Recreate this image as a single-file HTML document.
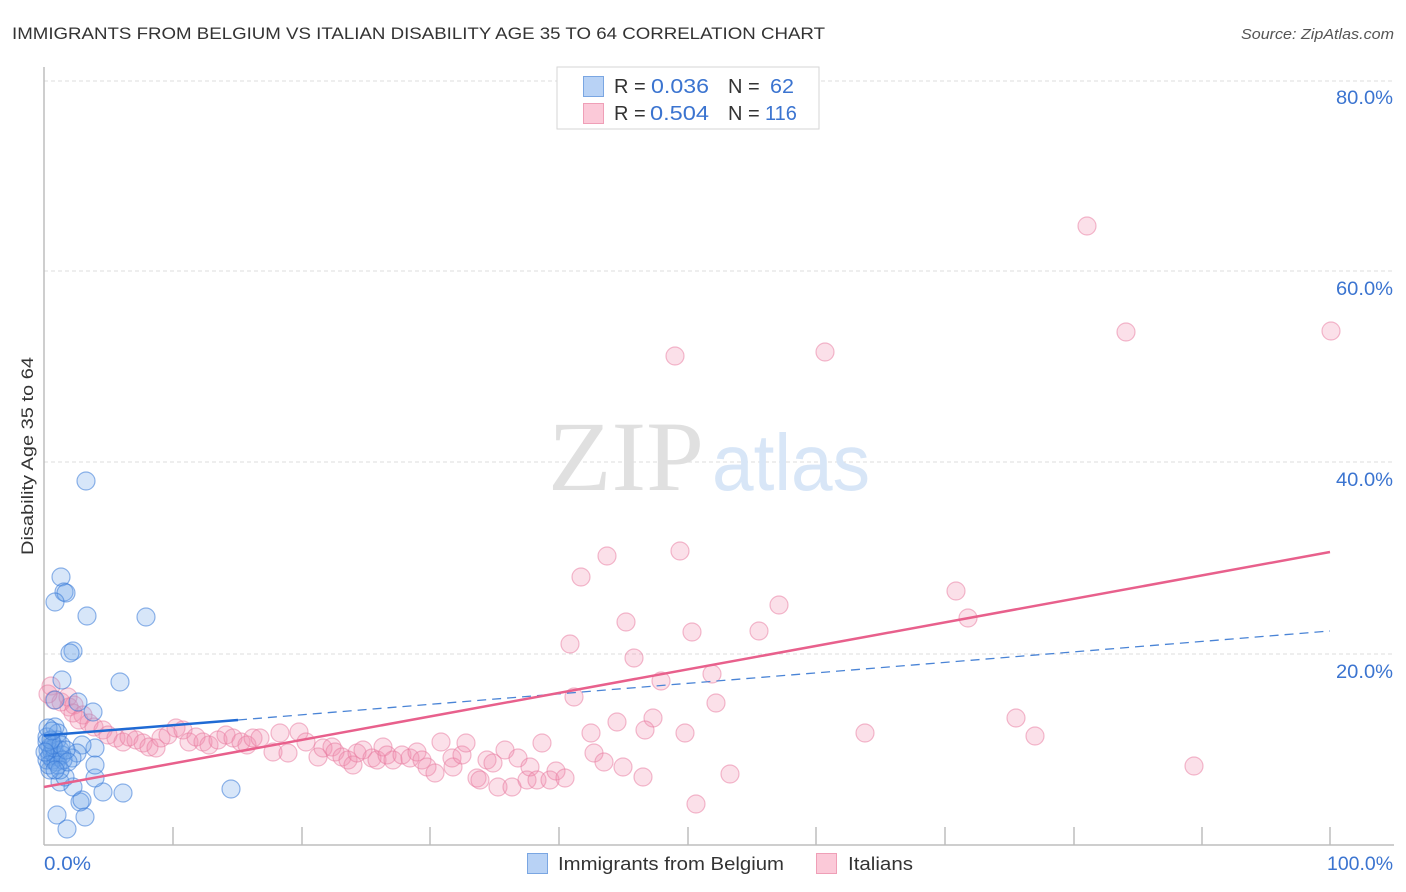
<!DOCTYPE html>
<html>
<head>
<meta charset="utf-8">
<style>
html,body{margin:0;padding:0;background:#fff;}
svg{display:block;}
</style>
</head>
<body>
<svg width="1406" height="892" viewBox="0 0 1406 892" xmlns="http://www.w3.org/2000/svg" font-family="Liberation Sans, sans-serif">
<rect width="1406" height="892" fill="#fff"/>
<!-- title -->
<text x="12" y="39" font-size="17" fill="#333" textLength="813" lengthAdjust="spacingAndGlyphs">IMMIGRANTS FROM BELGIUM VS ITALIAN DISABILITY AGE 35 TO 64 CORRELATION CHART</text>
<text x="1394" y="39" font-size="15" fill="#555" font-style="italic" text-anchor="end" textLength="153" lengthAdjust="spacingAndGlyphs">Source: ZipAtlas.com</text>

<!-- gridlines -->
<g stroke="#dcdcdc" stroke-width="1" stroke-dasharray="4,3">
<line x1="44" y1="81" x2="1394" y2="81"/>
<line x1="44" y1="271" x2="1394" y2="271"/>
<line x1="44" y1="462" x2="1394" y2="462"/>
<line x1="44" y1="654" x2="1394" y2="654"/>
</g>

<!-- watermark -->
<text x="548" y="490" style="font-family:'Liberation Serif',serif" font-size="100" fill="#e0e0e0" textLength="156" lengthAdjust="spacingAndGlyphs">ZIP</text>
<text x="712" y="490" font-size="80" fill="#d8e6f7" textLength="158" lengthAdjust="spacingAndGlyphs">atlas</text>

<!-- axes -->
<g stroke="#bdbdbd" stroke-width="1.5">
<line x1="44" y1="67" x2="44" y2="845"/>
<line x1="44" y1="845" x2="1394" y2="845"/>
<line x1="173" y1="827" x2="173" y2="845"/>
<line x1="302" y1="827" x2="302" y2="845"/>
<line x1="430" y1="827" x2="430" y2="845"/>
<line x1="559" y1="827" x2="559" y2="845"/>
<line x1="688" y1="827" x2="688" y2="845"/>
<line x1="816" y1="827" x2="816" y2="845"/>
<line x1="945" y1="827" x2="945" y2="845"/>
<line x1="1074" y1="827" x2="1074" y2="845"/>
<line x1="1202" y1="827" x2="1202" y2="845"/>
<line x1="1330" y1="827" x2="1330" y2="845"/>
</g>

<!-- pink points -->
<g fill="rgba(242,140,172,0.27)" stroke="rgba(232,120,158,0.5)" stroke-width="1.2">
<circle cx="51" cy="686" r="9"/><circle cx="54" cy="700" r="9"/><circle cx="61" cy="702" r="9"/><circle cx="68" cy="697" r="9"/><circle cx="69" cy="707" r="9"/><circle cx="74" cy="705" r="9"/><circle cx="73" cy="713" r="9"/><circle cx="83" cy="715" r="9"/><circle cx="79" cy="720" r="9"/><circle cx="89" cy="723" r="9"/><circle cx="94" cy="727" r="9"/><circle cx="103" cy="730" r="9"/><circle cx="108" cy="735" r="9"/><circle cx="116" cy="738" r="9"/><circle cx="123" cy="742" r="9"/><circle cx="129" cy="737" r="9"/><circle cx="136" cy="740" r="9"/><circle cx="143" cy="743" r="9"/><circle cx="149" cy="747" r="9"/><circle cx="156" cy="748" r="9"/><circle cx="161" cy="738" r="9"/><circle cx="168" cy="735" r="9"/><circle cx="176" cy="728" r="9"/><circle cx="183" cy="730" r="9"/><circle cx="189" cy="742" r="9"/><circle cx="196" cy="737" r="9"/><circle cx="203" cy="742" r="9"/><circle cx="209" cy="745" r="9"/><circle cx="218" cy="740" r="9"/><circle cx="226" cy="735" r="9"/><circle cx="233" cy="738" r="9"/><circle cx="241" cy="742" r="9"/><circle cx="48" cy="694" r="9"/>
<circle cx="247" cy="745" r="9"/><circle cx="253" cy="738" r="9"/><circle cx="260" cy="738" r="9"/><circle cx="273" cy="752" r="9"/><circle cx="280" cy="733" r="9"/><circle cx="288" cy="753" r="9"/><circle cx="299" cy="732" r="9"/><circle cx="306" cy="742" r="9"/><circle cx="318" cy="757" r="9"/><circle cx="323" cy="748" r="9"/><circle cx="332" cy="747" r="9"/><circle cx="335" cy="752" r="9"/><circle cx="342" cy="757" r="9"/><circle cx="348" cy="760" r="9"/><circle cx="353" cy="765" r="9"/><circle cx="357" cy="753" r="9"/><circle cx="363" cy="750" r="9"/><circle cx="372" cy="758" r="9"/><circle cx="377" cy="760" r="9"/><circle cx="383" cy="747" r="9"/><circle cx="387" cy="755" r="9"/><circle cx="393" cy="760" r="9"/><circle cx="402" cy="755" r="9"/><circle cx="410" cy="758" r="9"/><circle cx="417" cy="752" r="9"/><circle cx="422" cy="760" r="9"/><circle cx="427" cy="767" r="9"/><circle cx="435" cy="773" r="9"/><circle cx="441" cy="742" r="9"/><circle cx="452" cy="758" r="9"/><circle cx="453" cy="767" r="9"/><circle cx="462" cy="755" r="9"/><circle cx="466" cy="743" r="9"/><circle cx="477" cy="778" r="9"/><circle cx="480" cy="780" r="9"/><circle cx="487" cy="760" r="9"/><circle cx="493" cy="763" r="9"/><circle cx="498" cy="787" r="9"/><circle cx="505" cy="750" r="9"/><circle cx="512" cy="787" r="9"/><circle cx="518" cy="758" r="9"/><circle cx="527" cy="780" r="9"/><circle cx="530" cy="767" r="9"/><circle cx="537" cy="780" r="9"/><circle cx="542" cy="743" r="9"/>
<circle cx="550" cy="780" r="9"/><circle cx="556" cy="771" r="9"/><circle cx="565" cy="778" r="9"/><circle cx="574" cy="697" r="9"/><circle cx="581" cy="577" r="9"/><circle cx="607" cy="556" r="9"/><circle cx="680" cy="551" r="9"/><circle cx="675" cy="356" r="9"/><circle cx="825" cy="352" r="9"/><circle cx="1087" cy="226" r="9"/><circle cx="1126" cy="332" r="9"/><circle cx="1331" cy="331" r="9"/><circle cx="779" cy="605" r="9"/><circle cx="626" cy="622" r="9"/><circle cx="692" cy="632" r="9"/><circle cx="759" cy="631" r="9"/><circle cx="570" cy="644" r="9"/><circle cx="634" cy="658" r="9"/><circle cx="712" cy="674" r="9"/><circle cx="661" cy="681" r="9"/><circle cx="716" cy="703" r="9"/><circle cx="617" cy="722" r="9"/><circle cx="653" cy="718" r="9"/><circle cx="591" cy="733" r="9"/><circle cx="645" cy="730" r="9"/><circle cx="685" cy="733" r="9"/><circle cx="594" cy="753" r="9"/><circle cx="604" cy="762" r="9"/><circle cx="623" cy="767" r="9"/><circle cx="643" cy="777" r="9"/><circle cx="730" cy="774" r="9"/><circle cx="696" cy="804" r="9"/><circle cx="956" cy="591" r="9"/><circle cx="968" cy="618" r="9"/><circle cx="865" cy="733" r="9"/><circle cx="1016" cy="718" r="9"/><circle cx="1035" cy="736" r="9"/><circle cx="1194" cy="766" r="9"/>
</g>

<!-- blue points -->
<g fill="rgba(110,165,235,0.28)" stroke="rgba(55,120,215,0.55)" stroke-width="1.2">
<circle cx="86" cy="481" r="9"/><circle cx="61" cy="577" r="9"/><circle cx="64" cy="592" r="9"/><circle cx="66" cy="593" r="9"/><circle cx="55" cy="602" r="9"/><circle cx="87" cy="616" r="9"/><circle cx="146" cy="617" r="9"/><circle cx="73" cy="651" r="9"/><circle cx="70" cy="653" r="9"/><circle cx="62" cy="680" r="9"/><circle cx="120" cy="682" r="9"/><circle cx="55" cy="700" r="9"/><circle cx="78" cy="702" r="9"/><circle cx="93" cy="712" r="9"/><circle cx="231" cy="789" r="9"/>
<circle cx="57" cy="815" r="9"/><circle cx="67" cy="829" r="9"/><circle cx="85" cy="817" r="9"/><circle cx="103" cy="792" r="9"/><circle cx="123" cy="793" r="9"/><circle cx="80" cy="802" r="9"/><circle cx="82" cy="800" r="9"/><circle cx="73" cy="787" r="9"/><circle cx="60" cy="782" r="9"/><circle cx="65" cy="777" r="9"/><circle cx="95" cy="778" r="9"/><circle cx="95" cy="765" r="9"/><circle cx="95" cy="748" r="9"/><circle cx="82" cy="745" r="9"/><circle cx="77" cy="753" r="9"/><circle cx="72" cy="758" r="9"/>
<circle cx="50" cy="770" r="9"/><circle cx="47" cy="760" r="9"/><circle cx="50" cy="747" r="9"/><circle cx="57" cy="740" r="9"/><circle cx="47" cy="737" r="9"/><circle cx="53" cy="760" r="9"/><circle cx="55" cy="727" r="9"/><circle cx="58" cy="733" r="9"/>
<circle cx="48" cy="750" r="9"/><circle cx="52" cy="752" r="9"/><circle cx="55" cy="755" r="9"/><circle cx="58" cy="757" r="9"/><circle cx="50" cy="756" r="9"/><circle cx="54" cy="748" r="9"/><circle cx="60" cy="750" r="9"/><circle cx="62" cy="755" r="9"/><circle cx="56" cy="762" r="9"/><circle cx="49" cy="765" r="9"/><circle cx="53" cy="745" r="9"/><circle cx="47" cy="742" r="9"/><circle cx="61" cy="745" r="9"/><circle cx="58" cy="765" r="9"/><circle cx="63" cy="760" r="9"/><circle cx="51" cy="740" r="9"/><circle cx="66" cy="750" r="9"/><circle cx="45" cy="752" r="9"/><circle cx="48" cy="728" r="9"/><circle cx="52" cy="731" r="9"/><circle cx="60" cy="770" r="9"/><circle cx="68" cy="762" r="9"/><circle cx="55" cy="770" r="9"/>
</g>

<!-- regression lines -->
<line x1="238" y1="720" x2="1330" y2="631" stroke="#4a84d6" stroke-width="1.3" stroke-dasharray="9,6"/>
<line x1="44" y1="735.5" x2="238" y2="720" stroke="#1f6ad4" stroke-width="2.5"/>
<line x1="44" y1="787" x2="1330" y2="552" stroke="#e8608c" stroke-width="2.5"/>

<!-- y tick labels -->
<g font-size="19" fill="#3b74d0" text-anchor="end">
<text x="1393" y="104" textLength="57" lengthAdjust="spacingAndGlyphs">80.0%</text>
<text x="1393" y="295" textLength="57" lengthAdjust="spacingAndGlyphs">60.0%</text>
<text x="1393" y="486" textLength="57" lengthAdjust="spacingAndGlyphs">40.0%</text>
<text x="1393" y="678" textLength="57" lengthAdjust="spacingAndGlyphs">20.0%</text>
<text x="1393" y="870" textLength="66" lengthAdjust="spacingAndGlyphs">100.0%</text>
</g>
<text x="44" y="870" font-size="19" fill="#3b74d0" textLength="47" lengthAdjust="spacingAndGlyphs">0.0%</text>

<!-- y axis title -->
<text transform="translate(33,456) rotate(-90)" font-size="17" fill="#333" text-anchor="middle" textLength="198" lengthAdjust="spacingAndGlyphs">Disability Age 35 to 64</text>

<!-- top legend -->
<rect x="557" y="67" width="262" height="62" fill="#fff" stroke="#d6d6d6" stroke-width="1"/>
<rect x="583.5" y="76.5" width="20" height="20" fill="#b8d2f5" stroke="#7aa6e2" stroke-width="1"/>
<rect x="583.5" y="103.5" width="20" height="20" fill="#fbc9d8" stroke="#ef9fb7" stroke-width="1"/>
<g font-size="20">
<text x="614" y="93" fill="#333">R =</text>
<text x="651" y="93" fill="#3b74d0" textLength="58" lengthAdjust="spacingAndGlyphs">0.036</text>
<text x="728" y="93" fill="#333">N =</text>
<text x="770" y="93" fill="#3b74d0" textLength="24" lengthAdjust="spacingAndGlyphs">62</text>
<text x="614" y="120" fill="#333">R =</text>
<text x="650" y="120" fill="#3b74d0" textLength="59" lengthAdjust="spacingAndGlyphs">0.504</text>
<text x="728" y="120" fill="#333">N =</text>
<text x="765" y="120" fill="#3b74d0">116</text>
</g>

<!-- bottom legend -->
<rect x="527.5" y="853.5" width="20" height="20" fill="#b8d2f5" stroke="#7aa6e2" stroke-width="1"/>
<text x="558" y="870" font-size="18.5" fill="#333" textLength="226" lengthAdjust="spacingAndGlyphs">Immigrants from Belgium</text>
<rect x="816.5" y="853.5" width="20" height="20" fill="#fbc9d8" stroke="#ef9fb7" stroke-width="1"/>
<text x="848" y="870" font-size="18.5" fill="#333" textLength="65" lengthAdjust="spacingAndGlyphs">Italians</text>
</svg>
</body>
</html>
